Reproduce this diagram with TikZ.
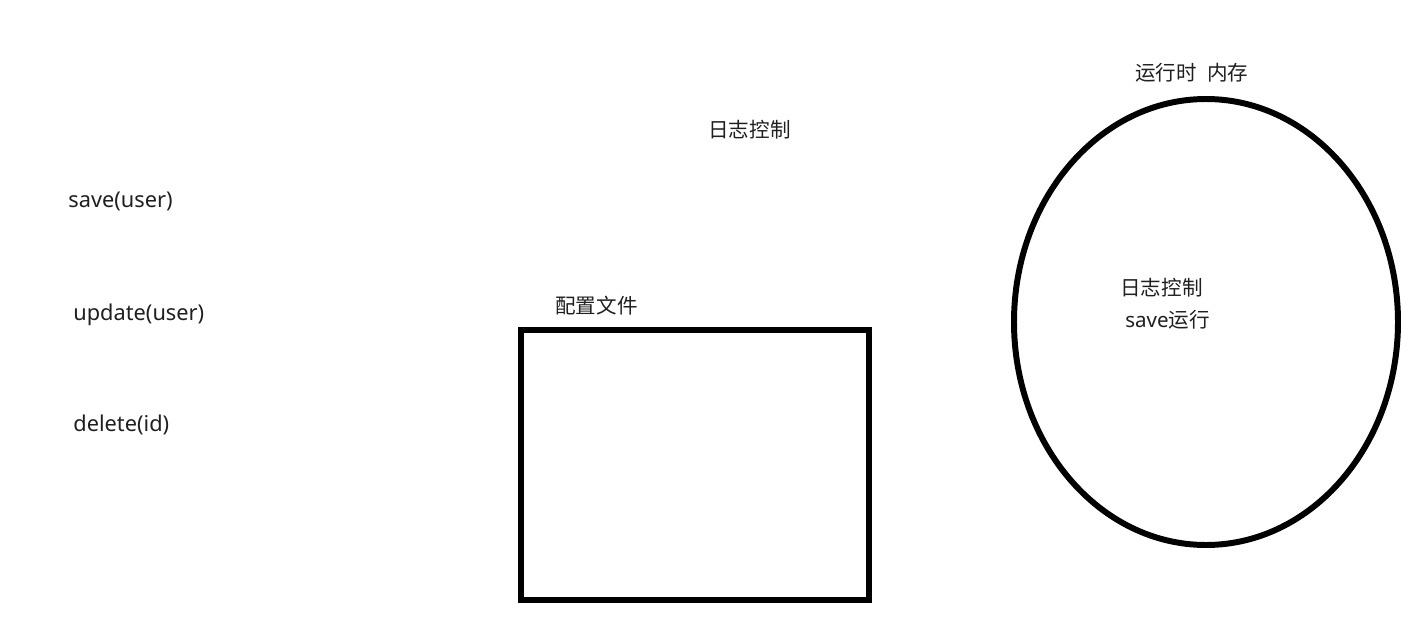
\documentclass[tikz,border=0pt]{standalone}
\usepackage{fontspec}
\setmainfont{Noto Sans}
\newfontfamily\cjk{Noto Sans CJK SC}
\usepackage{tikz}
\usetikzlibrary{positioning}

\tikzset{
  lbl/.style={font=\fontsize{11.7}{14}\selectfont, text=black!88, inner sep=0pt, anchor=west},
  latin/.style={lbl, font=\fontsize{12.4}{14}\selectfont},
  thickline/.style={draw=black, line width=3.4pt}
}

\begin{document}
\begin{tikzpicture}[x=0.02cm, y=-0.02cm]
		\useasboundingbox (0,0) rectangle (1401,636);
		
		% Methods
		\node[latin] (save) at (68,201) {save(user)};
		\node[latin] (update) at (73,315) {update(user)};
		\node[latin] (delete) at (73,425) {delete(id)};
		
		% Top label
		\node[lbl] (logtop) at (708,130) {\cjk 日志控制};
		
		% Config file
		\node[lbl] (cfglbl) at (555,306) {\cjk 配置文件};
		\draw[thickline] (521,330) rectangle (869,600);
		
		% Runtime memory
		\node[lbl] (memlbl) at (1135,73) {\cjk 运行时\hspace{0.5em}内存};
		\draw[thickline] (1206,322) ellipse [x radius=192, y radius=223];
		\node[lbl] (login) at (1120,288) {\cjk 日志控制};
		\node[lbl] (saverun) at (1125,320) {save{\cjk 运行}};
	\end{tikzpicture}
\end{document}
